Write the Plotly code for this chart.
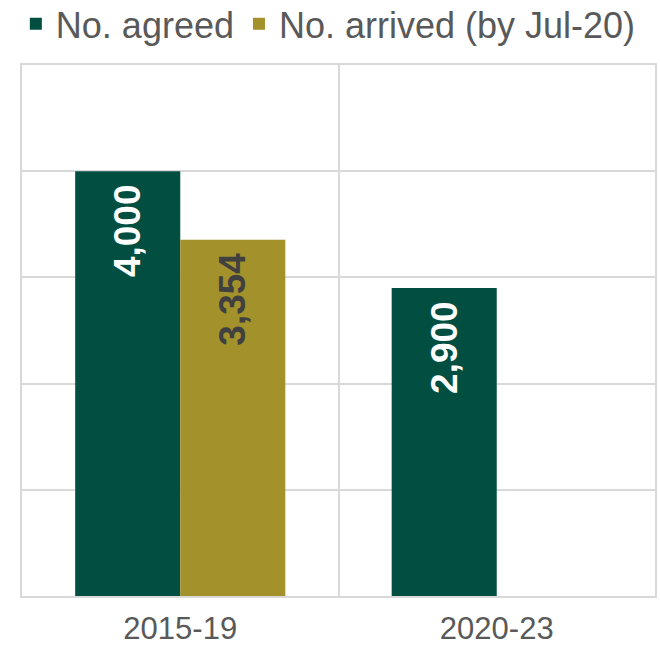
import plotly.graph_objects as go

categories = ["2015-19", "2020-23"]
agreed = [4000, 2900]
arrived = [3354, None]
agreed_labels = ["4,000", "2,900"]
arrived_labels = ["3,354", ""]

GREEN = "#024F42"
GOLD = "#A3912B"
GRID = "#D9D9D9"
TXT = "#595959"
PAD = "\u00a0"

fig = go.Figure()
fig.add_trace(go.Bar(
    name="No. agreed", x=categories, y=agreed,
    text=[t + PAD for t in agreed_labels], textposition="inside",
    insidetextanchor="end", textangle=-90,
    textfont=dict(family="Liberation Sans, Arial", size=37, color="white", weight="bold"),
    marker=dict(color=GREEN, line=dict(width=0)),
))
fig.add_trace(go.Bar(
    name="No. arrived (by Jul-20)", x=categories, y=arrived,
    text=[t + PAD if t else "" for t in arrived_labels], textposition="inside",
    insidetextanchor="end", textangle=-90,
    textfont=dict(family="Liberation Sans, Arial", size=37, color="#404040", weight="bold"),
    marker=dict(color=GOLD, line=dict(width=0)),
))

fig.update_layout(
    width=660, height=646,
    margin=dict(l=22, r=5, t=65, b=50, autoexpand=False),
    paper_bgcolor="white", plot_bgcolor="white",
    barmode="group", bargap=0.336, bargroupgap=0,
    font=dict(family="Liberation Sans, Arial", color=TXT),
    legend=dict(orientation="h", xref="container", yref="container",
                x=0.024, xanchor="left", y=0.963, yanchor="middle",
                font=dict(size=36, color=TXT), traceorder="normal",
                itemclick=False, bgcolor="rgba(0,0,0,0)"),
    xaxis=dict(tickson="boundaries", showgrid=True, gridcolor=GRID, gridwidth=2,
               showline=True, linecolor=GRID, linewidth=2, mirror=True,
               ticks="", tickfont=dict(size=31, color=TXT), ticklabelstandoff=4,
               tickangle=0, automargin=False),
    yaxis=dict(range=[0, 5000], dtick=1000, showgrid=True, gridcolor=GRID, gridwidth=2,
               showticklabels=False, showline=True, linecolor=GRID, linewidth=2,
               mirror=True, zeroline=False, ticks="", automargin=False),
)

fig.write_html("out.html")
